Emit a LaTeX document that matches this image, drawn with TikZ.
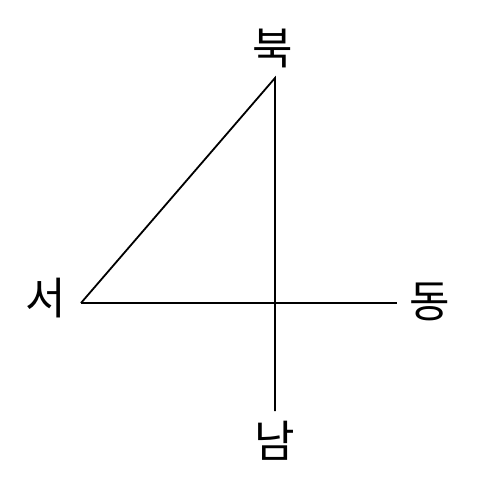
\documentclass[tikz,border=0pt]{standalone}
\usepackage{fontspec}
\newfontfamily\kor{Noto Sans CJK KR}
\begin{document}
\begin{tikzpicture}[x=0.5pt,y=-0.5pt,line width=0.9pt,
  dir/.style={font=\kor\fontsize{22}{22}\selectfont,inner sep=0pt}]
\useasboundingbox (0,0) rectangle (489,492);
\coordinate (top) at (275,78);
\coordinate (bot) at (275,411);
\coordinate (west) at (81,303);
\coordinate (east) at (397,303);
\node[dir] (buk) at (273,48) {북};
\node[dir] (seo) at (46,298) {서};
\node[dir] (dong) at (430,302) {동};
\node[dir] (nam) at (275,441) {남};
\draw (west) -- (top) -- (bot);
\draw (west) -- (east);
\end{tikzpicture}
\end{document}
